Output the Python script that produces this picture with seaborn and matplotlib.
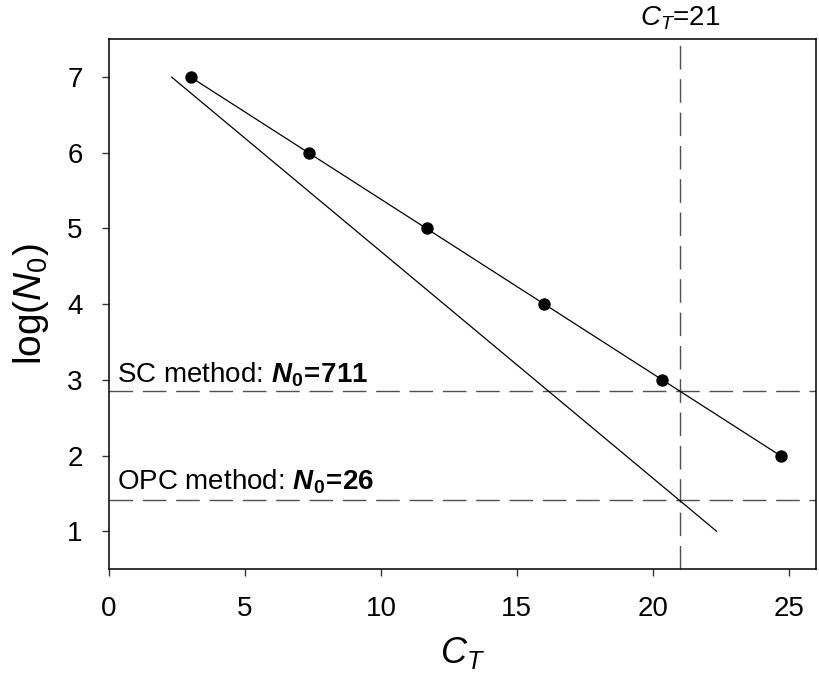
import numpy as np
import pandas as pd
import matplotlib
matplotlib.use("Agg")
import matplotlib.pyplot as plt
import seaborn as sns

# Style
sns.set_theme(style="ticks")
plt.rcParams['font.family'] = ['Liberation Sans', 'DejaVu Sans']
plt.rcParams['mathtext.fontset'] = 'custom'
plt.rcParams['mathtext.rm'] = 'Liberation Sans'
plt.rcParams['mathtext.it'] = 'Liberation Sans:italic'
plt.rcParams['mathtext.bf'] = 'Liberation Sans:bold'
plt.rcParams['mathtext.bfit'] = 'Liberation Sans:italic:bold'
for k in ['text.color', 'axes.labelcolor', 'xtick.color', 'ytick.color']:
    plt.rcParams[k] = 'black'

# -------------------------------
# DATA
# -------------------------------
ct_points = [3.0, 7.34, 11.68, 16.0, 20.35, 24.7]
log_n0_points = [7, 6, 5, 4, 3, 2]

opc_ct = [2.3, 22.35]
opc_log_n0 = [7, 1]

ct_threshold = 21
sc_n0 = 711
opc_n0 = 26

x_ticks = [0, 5, 10, 15, 20, 25]
y_ticks = [1, 2, 3, 4, 5, 6, 7]

df_sc = pd.DataFrame({'ct': ct_points, 'log_n0': log_n0_points})
df_opc = pd.DataFrame({'ct': opc_ct, 'log_n0': opc_log_n0})

# -------------------------------
# PLOT
# -------------------------------
fig = plt.figure(figsize=(8.2, 6.76), dpi=100)
ax = fig.add_axes([0.133, 0.158, 0.862, 0.784])

dash_kw = dict(color='#505050', lw=1.0, dashes=(17, 7), zorder=1)
ax.axhline(np.log10(sc_n0), **dash_kw)
ax.axhline(np.log10(opc_n0), **dash_kw)
ax.axvline(ct_threshold, **dash_kw)

sns.regplot(x='ct', y='log_n0', data=df_sc, ci=None, ax=ax,
            scatter_kws=dict(s=80, color='black', alpha=1, zorder=3, linewidths=0),
            line_kws=dict(color='black', lw=0.9, zorder=2))
sns.lineplot(x='ct', y='log_n0', data=df_opc, ax=ax, color='black', lw=0.9)

ax.set_xlim(0, 26)
ax.set_ylim(0.5, 7.5)
ax.set_xticks(x_ticks)
ax.set_yticks(y_ticks)
ax.tick_params(axis='both', labelsize=20, length=5, width=1, pad=14, color='#333333')
for s in ax.spines.values():
    s.set_linewidth(1.1)
    s.set_color('black')

ax.set_xlabel(r'$\mathit{C}_{\mathit{T}}$', fontsize=26, labelpad=10)
ax.set_ylabel(r'log($\mathit{N}_{0}$)', fontsize=28, labelpad=12)

ax.text(0.3, 2.97, r'SC method: $\mathbfit{N}_\mathbf{0}$' + r'$\mathbf{\!=\!711}$',
        fontsize=20, va='baseline', ha='left')
ax.text(0.3, 1.555, r'OPC method: $\mathbfit{N}_\mathbf{0}$' + r'$\mathbf{\!=\!26}$',
        fontsize=20, va='baseline', ha='left')
ax.text(ct_threshold, 7.68, r'$\mathit{C}_{\mathit{T}}$=21', fontsize=20,
        ha='center', va='baseline')

plt.savefig("out.png", dpi=100)
plt.close()
